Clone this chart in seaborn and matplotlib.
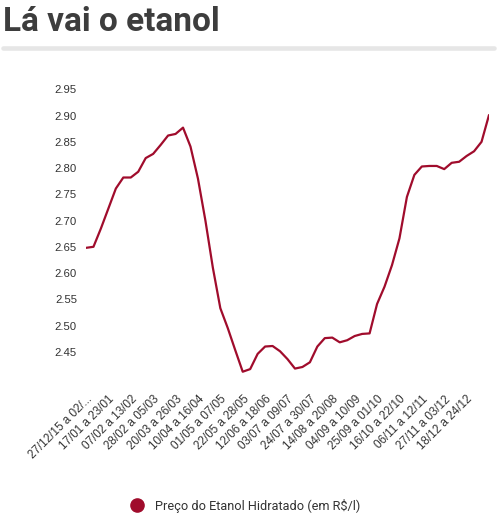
import pandas as pd
import seaborn as sns
import matplotlib.pyplot as plt
from matplotlib.lines import Line2D

semanas = ['27/12/15 a 02/...', '03/01 a 09/01', '10/01 a 16/01', '17/01 a 23/01',
           '24/01 a 30/01', '31/01 a 06/02', '07/02 a 13/02', '14/02 a 20/02',
           '21/02 a 27/02', '28/02 a 05/03', '06/03 a 12/03', '13/03 a 19/03',
           '20/03 a 26/03', '27/03 a 02/04', '03/04 a 09/04', '10/04 a 16/04',
           '17/04 a 23/04', '24/04 a 30/04', '01/05 a 07/05', '08/05 a 14/05',
           '15/05 a 21/05', '22/05 a 28/05', '29/05 a 04/06', '05/06 a 11/06',
           '12/06 a 18/06', '19/06 a 25/06', '26/06 a 02/07', '03/07 a 09/07',
           '10/07 a 16/07', '17/07 a 23/07', '24/07 a 30/07', '31/07 a 06/08',
           '07/08 a 13/08', '14/08 a 20/08', '21/08 a 27/08', '28/08 a 03/09',
           '04/09 a 10/09', '11/09 a 17/09', '18/09 a 24/09', '25/09 a 01/10',
           '02/10 a 08/10', '09/10 a 15/10', '16/10 a 22/10', '23/10 a 29/10',
           '30/10 a 05/11', '06/11 a 12/11', '13/11 a 19/11', '20/11 a 26/11',
           '27/11 a 03/12', '04/12 a 10/12', '11/12 a 17/12', '18/12 a 24/12',
           '25/12 a 31/12', '01/01 a 07/01', '08/01 a 14/01']

preco = [2.648, 2.650, 2.685, 2.723, 2.761, 2.782, 2.782, 2.793, 2.819, 2.827,
         2.844, 2.862, 2.865, 2.877, 2.841, 2.780, 2.700, 2.610, 2.533, 2.495,
         2.453, 2.412, 2.417, 2.446, 2.460, 2.461, 2.451, 2.436, 2.418, 2.421,
         2.430, 2.460, 2.476, 2.477, 2.468, 2.472, 2.480, 2.484, 2.485, 2.541,
         2.574, 2.615, 2.666, 2.745, 2.787, 2.803, 2.804, 2.804, 2.798, 2.810,
         2.812, 2.823, 2.832, 2.850, 2.901]

yticks = [2.45, 2.50, 2.55, 2.60, 2.65, 2.70, 2.75, 2.80, 2.85, 2.90, 2.95]
serie = 'Preço do Etanol Hidratado (em R$/l)'
cor = '#a00c2c'

sns.set_style('white')
plt.rcParams['font.family'] = ['Roboto', 'DejaVu Sans']

df = pd.DataFrame({'semana': semanas, 'preco': preco})

fig = plt.figure(figsize=(5, 5.27), dpi=100)
ax = fig.add_axes([0.172, 0.2827, 0.806, 0.5478])
sns.lineplot(data=df, x='semana', y='preco', color=cor, lw=1.6, ax=ax, sort=False)

ax.set_xlim(0, len(semanas) - 1)
ax.set_ylim(2.40, 2.95)
ax.set_yticks(yticks)
ax.set_yticklabels([f'{v:.2f}' for v in yticks], family='Liberation Sans')
ax.set_xticks(range(0, 52, 3))
ax.set_xticklabels(semanas[0:52:3], rotation=45, ha='right', va='top',
                   rotation_mode='anchor', family='Liberation Sans')
ax.tick_params(axis='x', length=0, pad=11, labelsize=8.4, labelcolor='#333333')
ax.tick_params(axis='y', length=0, pad=6.5, labelsize=8.2, labelcolor='#333333')
ax.set_xlabel('')
ax.set_ylabel('')
sns.despine(ax=ax, left=True, bottom=True)

fig.text(0.006, 1 - 31 / 527, 'Lá vai o etanol', fontsize=24, fontweight='bold',
         color='#3d3d3d', va='baseline', ha='left')
fig.add_artist(Line2D([0.006, 0.988], [1 - 48.3 / 527] * 2, color='#e6e6e6', lw=3.3))

handle = Line2D([], [], marker='o', linestyle='none', markersize=9.5, color=cor)
fig.legend([handle], [serie], loc='center', bbox_to_anchor=(0.485, 1 - 505.7 / 527),
           frameon=False, fontsize=9.2, labelcolor='#333333', handletextpad=0.4)

fig.savefig('out.png', dpi=100)
